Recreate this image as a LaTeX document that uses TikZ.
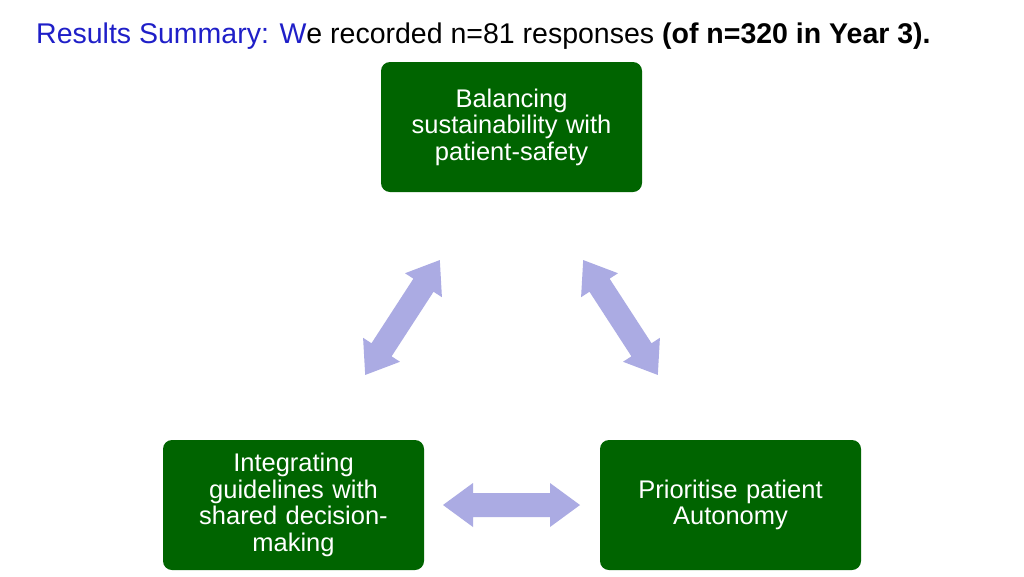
\documentclass[tikz,border=0pt]{standalone}
\usepackage{fontspec}
\setmainfont{Liberation Sans}
\definecolor{boxg}{HTML}{006400}
\definecolor{arr}{HTML}{ABABE3}
\definecolor{ttl}{HTML}{1F1FC8}
\newcommand\mydarrow[3]{%
\begin{scope}[shift={(#1,#2)},rotate=#3]
\fill[arr] (-68.5,0) -- (-38.5,-22) -- (-38.5,-12) -- (38.5,-12) -- (38.5,-22) -- (68.5,0) -- (38.5,22) -- (38.5,12) -- (-38.5,12) -- (-38.5,22) -- cycle;
\end{scope}}
\begin{document}
\begin{tikzpicture}[x=1pt,y=-1pt,
  box/.style={fill=boxg,draw=none,rounded corners=9pt,minimum width=261pt,minimum height=130pt,text width=240pt,align=center,text=white,font=\fontsize{25.5}{26.5}\selectfont}]
\useasboundingbox (0,0) rectangle (1024,576);
\fill[white] (0,0) rectangle (1024,576);
\node[anchor=base west,inner sep=0pt,font=\fontsize{28.5}{32}\selectfont] (title) at (36,43) {\textcolor{ttl}{Results Summary: W}e recorded n=81 responses \textbf{(of n=320 in Year 3).}};
\node[box] (top) at (511.5,127) {Balancing\\sustainability with\\patient-safety\\[26pt]};
\node[box] (bl) at (293.5,505) {Integrating\\guidelines with\\shared decision-\\making};
\node[box] (br) at (730.5,505) {Prioritise patient\\Autonomy};
\mydarrow{402.5}{317.5}{57}
\mydarrow{620.5}{317.5}{-57}
\mydarrow{511.5}{505}{0}
\end{tikzpicture}
\end{document}
